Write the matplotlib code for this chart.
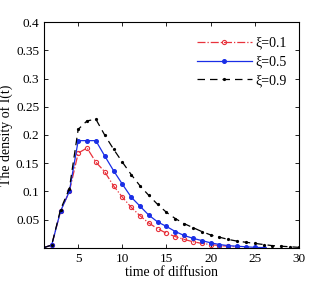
import matplotlib
matplotlib.use("Agg")
import matplotlib.pyplot as plt

plt.rcParams['font.family'] = ['Liberation Serif', 'DejaVu Serif']

t_red = list(range(1, 24))
red = [0, 0.005, 0.065, 0.10, 0.168, 0.177, 0.152, 0.135, 0.11, 0.09, 0.072, 0.057,
       0.044, 0.034, 0.026, 0.02, 0.015, 0.011, 0.008, 0.006, 0.004, 0.003, 0.002]
t_blue = list(range(1, 27))
blue = [0, 0.005, 0.065, 0.10, 0.19, 0.19, 0.19, 0.163, 0.137, 0.113, 0.09, 0.074,
        0.058, 0.046, 0.038, 0.029, 0.022, 0.017, 0.013, 0.009, 0.006, 0.004, 0.003,
        0.002, 0.001, 0.0005]
t_black = list(range(1, 31))
black = [0, 0.005, 0.068, 0.105, 0.21, 0.225, 0.228, 0.2, 0.175, 0.152, 0.13, 0.11,
         0.093, 0.077, 0.063, 0.052, 0.043, 0.036, 0.029, 0.023, 0.019, 0.015, 0.012,
         0.01, 0.008, 0.006, 0.004, 0.003, 0.002, 0.001]
labels = ['ξ=0.1', 'ξ=0.5', 'ξ=0.9']

fig = plt.figure(figsize=(3.31, 2.83), dpi=100)
ax = fig.add_axes([0.133, 0.124, 0.77, 0.798])
ax.plot(t_red, red, '-.', color='#e8323c', lw=0.9, marker='o', ms=3.0,
        mfc='none', mew=0.8, label=labels[0])
ax.plot(t_blue, blue, '-', color='#1a2ee6', lw=0.9, marker='o', ms=2.6,
        label=labels[1])
ax.plot(t_black, black, '--', color='black', lw=0.9, marker='o', ms=1.3,
        dashes=(6, 4), label=labels[2])

ax.set_xlim(1.13, 30)
ax.set_ylim(0, 0.4)
ax.set_xticks([5, 10, 15, 20, 25, 30])
ax.set_yticks([0.05, 0.1, 0.15, 0.2, 0.25, 0.3, 0.35, 0.4])
ax.set_yticklabels(['0.05', '0.1', '0.15', '0.2', '0.25', '0.3', '0.35', '0.4'])
ax.tick_params(direction='in', top=True, right=True, labelsize=9.5, length=3, width=0.6)
for s in ax.spines.values():
    s.set_linewidth(0.8)
ax.set_xlabel('time of diffusion', fontsize=10, labelpad=1)
ax.set_ylabel('The density of I(t)', fontsize=10, labelpad=2)
ax.legend(loc='upper right', frameon=False, fontsize=10, handlelength=4.0,
          handletextpad=0.2, labelspacing=0.4, bbox_to_anchor=(1.0, 0.99))

fig.savefig('out.png', dpi=100)
